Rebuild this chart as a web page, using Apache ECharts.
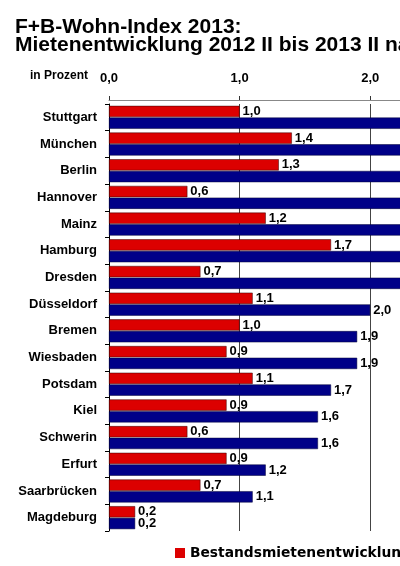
<!DOCTYPE html>
<html>
<head>
<meta charset="utf-8">
<script src="https://cdn.jsdelivr.net/npm/echarts@6/dist/echarts.min.js"></script>
<style>
    html, body { margin: 0; padding: 0; background: #fff; }
    #chart { width: 400px; height: 566px; }
</style>
</head>
<body>
<div id="chart"></div>
<script>
// Städte, von oben nach unten
const cities = ['Stuttgart', 'München', 'Berlin', 'Hannover', 'Mainz', 'Hamburg', 'Dresden', 'Düsseldorf',
    'Bremen', 'Wiesbaden', 'Potsdam', 'Kiel', 'Schwerin', 'Erfurt', 'Saarbrücken', 'Magdeburg'];
// Bestandsmieten (rot)
const bestand = [1.0, 1.4, 1.3, 0.6, 1.2, 1.7, 0.7, 1.1, 1.0, 0.9, 1.1, 0.9, 0.6, 0.9, 0.7, 0.2];
// Neuvertragsmieten (blau) - die ersten sieben sind im Bild abgeschnitten, geschätzt
const neuvertrag = [4.4, 3.8, 3.5, 3.1, 2.8, 2.5, 2.3, 2.0, 1.9, 1.9, 1.7, 1.6, 1.6, 1.2, 1.1, 0.2];
const xTicks = [0, 1, 2, 3, 4, 5];

const font = '"Liberation Sans", Arial, sans-serif';
const fmt = v => v.toFixed(1).replace('.', ',');   // 1.0 -> 1,0

let chart = echarts.init(document.getElementById('chart'));
let option = {
    animation: false,
    title: {
        text: 'F+B-Wohn-Index 2013:\nMietenentwicklung 2012 II bis 2013 II nach Städten',
        left: 10,
        top: 13,
        textStyle: {
            fontFamily: font,
            fontSize: 21,
            fontWeight: 'bold',
            color: '#000',
            lineHeight: 18
        }
    },
    graphic: [{
        type: 'text',
        left: 30,
        top: 70,
        style: {
            text: 'in Prozent',
            fontFamily: font,
            fontSize: 12,
            fontWeight: 'bold',
            fill: '#000'
        }
    }],
    legend: {
        left: 175,
        top: 546,
        padding: 0,
        itemWidth: 10,
        itemHeight: 10,
        itemGap: 40,
        icon: 'rect',
        itemStyle: { borderWidth: 0 },
        data: ['Bestandsmietenentwicklung', 'Neuvertragsmietenentwicklung'],
        textStyle: {
            fontFamily: '"DejaVu Sans", sans-serif',
            fontSize: 13.8,
            fontWeight: 'bold',
            color: '#000'
        }
    },
    grid: {
        left: 109,
        top: 104,
        width: 653,
        height: 427,
        outerBoundsMode: 'none',
        containLabel: false
    },
    xAxis: {
        type: 'value',
        position: 'top',
        offset: 4,
        min: xTicks[0],
        max: xTicks[xTicks.length - 1],
        interval: 1,
        axisLine: { show: true, lineStyle: { color: '#888', width: 1 } },
        axisTick: { show: true, length: 4, lineStyle: { color: '#333' } },
        axisLabel: {
            margin: 15,
            formatter: fmt,
            fontFamily: font,
            fontSize: 13,
            fontWeight: 'bold',
            color: '#000'
        },
        splitLine: { show: true, lineStyle: { color: '#444', width: 1 } }
    },
    yAxis: {
        type: 'category',
        inverse: true,
        data: cities,
        axisLine: { show: true, lineStyle: { color: '#000', width: 1 } },
        axisTick: { show: true, length: 4, lineStyle: { color: '#000' } },
        axisLabel: {
            margin: 12,
            fontFamily: font,
            fontSize: 13,
            fontWeight: 'bold',
            color: '#000'
        }
    },
    series: [
        {
            name: 'Bestandsmietenentwicklung',
            type: 'bar',
            data: bestand,
            barGap: '4%',
            barCategoryGap: '14%',
            itemStyle: { color: '#dc0000', borderColor: '#300', borderWidth: 0.5 },
            label: {
                show: true,
                position: 'right',
                distance: 3,
                formatter: p => fmt(p.value),
                fontFamily: font,
                fontSize: 13,
                fontWeight: 'bold',
                color: '#000'
            }
        },
        {
            name: 'Neuvertragsmietenentwicklung',
            type: 'bar',
            data: neuvertrag,
            barGap: '4%',
            barCategoryGap: '14%',
            itemStyle: { color: '#000088', borderColor: '#000033', borderWidth: 0.5 },
            label: {
                show: true,
                position: 'right',
                distance: 3,
                formatter: p => fmt(p.value),
                fontFamily: font,
                fontSize: 13,
                fontWeight: 'bold',
                color: '#000'
            }
        }
    ]
};
chart.setOption(option);
</script>
</body>
</html>
